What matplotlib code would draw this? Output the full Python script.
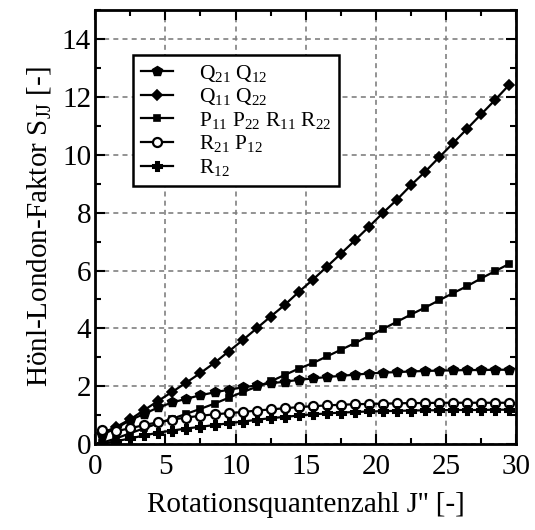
import matplotlib
matplotlib.use('Agg')
import matplotlib.pyplot as plt
from matplotlib.ticker import MultipleLocator

plt.rcParams['font.family'] = ['Liberation Serif', 'DejaVu Serif']
plt.rcParams['mathtext.fontset'] = 'custom'
plt.rcParams['mathtext.rm'] = 'Liberation Serif'
plt.rcParams['mathtext.it'] = 'Liberation Serif:italic'

# Rotationsquantenzahl J''
j_vals = [0.5, 1.5, 2.5, 3.5, 4.5, 5.5, 6.5, 7.5, 8.5, 9.5,
          10.5, 11.5, 12.5, 13.5, 14.5, 15.5, 16.5, 17.5, 18.5, 19.5,
          20.5, 21.5, 22.5, 23.5, 24.5, 25.5, 26.5, 27.5, 28.5, 29.5]

q21_q12 = [0.33, 0.55, 0.83, 1.05, 1.27, 1.44, 1.57, 1.69, 1.79, 1.88,
           1.96, 2.03, 2.10, 2.16, 2.22, 2.27, 2.32, 2.36, 2.40, 2.44,
           2.47, 2.49, 2.51, 2.53, 2.54, 2.55, 2.56, 2.56, 2.57, 2.57]

q11_q22 = [0.38, 0.60, 0.86, 1.18, 1.50, 1.81, 2.13, 2.46, 2.81, 3.20,
           3.59, 4.00, 4.41, 4.81, 5.26, 5.68, 6.13, 6.58, 7.04, 7.51,
           7.99, 8.45, 8.95, 9.41, 9.91, 10.40, 10.90, 11.40, 11.90, 12.42]

p11_p22_r11_r22 = [0.05, 0.20, 0.38, 0.55, 0.72, 0.88, 1.05, 1.22, 1.40, 1.60,
                   1.80, 1.98, 2.17, 2.39, 2.61, 2.80, 3.03, 3.26, 3.49, 3.73,
                   3.98, 4.23, 4.48, 4.72, 4.97, 5.22, 5.46, 5.73, 5.98, 6.23]

r21_p12 = [0.50, 0.45, 0.55, 0.66, 0.76, 0.85, 0.92, 0.98, 1.03, 1.07,
           1.11, 1.16, 1.20, 1.24, 1.28, 1.31, 1.34, 1.36, 1.38, 1.39,
           1.40, 1.41, 1.42, 1.42, 1.43, 1.43, 1.43, 1.43, 1.43, 1.43]

r12 = [0.02, 0.10, 0.20, 0.30, 0.40, 0.47, 0.54, 0.60, 0.66, 0.72,
       0.78, 0.84, 0.90, 0.94, 0.99, 1.03, 1.06, 1.09, 1.11, 1.13,
       1.14, 1.15, 1.16, 1.17, 1.17, 1.18, 1.18, 1.18, 1.19, 1.19]

labels = ['Q$_{21}$ Q$_{12}$', 'Q$_{11}$ Q$_{22}$',
          'P$_{11}$ P$_{22}$ R$_{11}$ R$_{22}$', 'R$_{21}$ P$_{12}$', 'R$_{12}$']

fig = plt.figure(figsize=(5.35, 5.30), dpi=100)
ax = fig.add_axes([0.178, 0.162, 0.787, 0.819])

common = dict(color='black', lw=1.6, mec='black', zorder=5)
ax.plot(j_vals, q21_q12, marker='p', mfc='black', ms=7.5, mew=1.0, label=labels[0], **common)
ax.plot(j_vals, q11_q22, marker='D', mfc='black', ms=5.5, mew=1.2, label=labels[1], **common)
ax.plot(j_vals, p11_p22_r11_r22, marker='s', mfc='black', ms=5, mew=1.2, label=labels[2], **common)
ax.plot(j_vals, r21_p12, marker='o', mfc='white', ms=6.5, mew=1.6, label=labels[3], **common)
ax.plot(j_vals, r12, marker='P', mfc='white', ms=6.2, mew=2.2, label=labels[4], **common)

ax.set_xlim(0, 30)
ax.set_ylim(0, 15)
ax.xaxis.set_major_locator(MultipleLocator(5))
ax.xaxis.set_minor_locator(MultipleLocator(2.5))
ax.yaxis.set_major_locator(MultipleLocator(2))
ax.yaxis.set_minor_locator(MultipleLocator(1))
ax.tick_params(which='both', direction='in', top=True, right=True,
               labelsize=21, width=1.5)
ax.tick_params(which='major', length=7)
ax.tick_params(which='minor', length=4)
ax.tick_params(axis='x', pad=7)
ax.tick_params(axis='y', pad=3)
for sp in ax.spines.values():
    sp.set_linewidth(2)

ax.grid(True, which='major', color='#808080', ls=(0, (3, 2.5)), lw=1.2)
ax.set_axisbelow(True)

ax.set_xlabel("Rotationsquantenzahl J'' [-]", fontsize=21, labelpad=9)
ax.set_ylabel('Hönl-London-Faktor S$_{\\mathrm{JJ}}$ [-]', fontsize=21, labelpad=6)

leg = ax.legend(loc='upper left', bbox_to_anchor=(0.09, 0.896), borderaxespad=0,
                fontsize=15.5, frameon=True, fancybox=False, edgecolor='black',
                framealpha=1, handlelength=1.5, handletextpad=1.2,
                borderpad=0.35, labelspacing=0.12)
leg.get_frame().set_linewidth(1.8)

fig.savefig('out.png', dpi=100)
